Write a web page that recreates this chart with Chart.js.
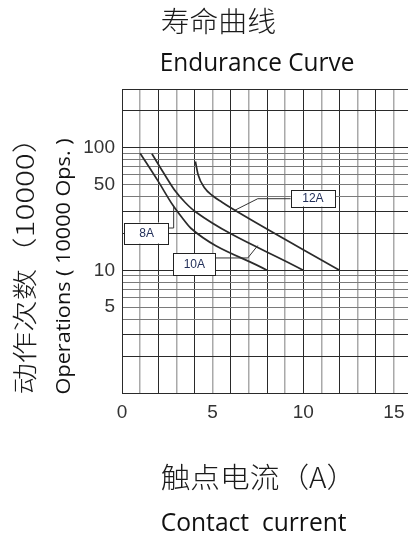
<!DOCTYPE html>
<html><head><meta charset="utf-8">
<script src="https://cdn.jsdelivr.net/npm/chart.js@4"></script>
<style>
html,body{margin:0;padding:0;background:#fff;overflow:hidden;}
#wrap{position:relative;width:420px;height:539px;}
</style></head><body>
<div id="wrap"><canvas id="c"></canvas></div>
<script>
// ---- data ----
const currents8 = [1.0, 2.0, 2.8, 3.3, 3.8, 8.0];
const ops8 = [90, 53, 34, 27, 22, 10];
const currents10 = [1.65, 2.3, 2.95, 3.5, 4.05, 10.0];
const ops10 = [89, 62, 44, 35.5, 30, 10];
const currents12 = [4.05, 4.2, 4.55, 5.0, 5.5, 6.0, 12.0];
const ops12 = [77, 60, 47, 40.5, 36, 32.3, 10];
const seriesNames = ['8A', '10A', '12A'];
const xTickLabels = [0, 5, 10, 15];
const yTickLabels = [100, 50, 10, 5];
const yGridValues = [1,2,3,4,5,6,7,8,9,10,20,30,40,50,60,70,80,90,100,200,300];
const yMajorGrid = [1,2,3,10,20,30,100,200,300];

// callout label boxes and leader lines, in data coordinates
const calloutBoxX = [[0.13, 2.58], [2.82, 5.16], [9.31, 11.76]];
const calloutBoxY = [[16.5, 24.5], [9.06, 13.8], [33.1, 45.3]];
const calloutLeaders = [
  [[2.58, 22.1], [2.85, 22.1], [2.85, 33]],
  [[5.16, 12.6], [6.94, 12.6], [7.49, 15.9]],
  [[9.31, 38.3], [7.49, 38.3], [6.22, 30.8]]
];

const toPts = (xs, ys) => xs.map((x, i) => ({x: x, y: ys[i]}));

function fitText(ctx, text, font, color, x0, x1, yc) {
  ctx.save();
  ctx.font = font; ctx.fillStyle = color;
  ctx.textBaseline = 'alphabetic'; ctx.textAlign = 'left';
  const m = ctx.measureText(text);
  const inkW = m.actualBoundingBoxLeft + m.actualBoundingBoxRight;
  const sx = (x1 - x0) / inkW;
  const base = yc + (m.actualBoundingBoxAscent - m.actualBoundingBoxDescent) / 2;
  ctx.translate(x0, base);
  ctx.scale(sx, 1);
  ctx.fillText(text, m.actualBoundingBoxLeft, 0);
  ctx.restore();
}
function fitTextVertical(ctx, text, font, color, xc, yStart, yEnd) {
  ctx.save();
  ctx.translate(xc, yStart);
  ctx.rotate(-Math.PI / 2);
  fitText(ctx, text, font, color, 0, yStart - yEnd, 0);
  ctx.restore();
}

const decorPlugin = {
  id: 'decor',
  afterDatasetsDraw(chart) {
    const ctx = chart.ctx, xs = chart.scales.x, ys = chart.scales.y;
    ctx.save();
    // leaders
    ctx.strokeStyle = '#333'; ctx.lineWidth = 1;
    calloutLeaders.forEach(path => {
      ctx.beginPath();
      path.forEach((p, i) => {
        const px = xs.getPixelForValue(p[0]), py = ys.getPixelForValue(p[1]);
        if (i === 0) ctx.moveTo(px, py); else ctx.lineTo(px, py);
      });
      ctx.stroke();
    });
    // boxes
    seriesNames.forEach((name, i) => {
      const x0 = xs.getPixelForValue(calloutBoxX[i][0]);
      const x1 = xs.getPixelForValue(calloutBoxX[i][1]);
      const y0 = ys.getPixelForValue(calloutBoxY[i][1]);
      const y1 = ys.getPixelForValue(calloutBoxY[i][0]);
      ctx.fillStyle = '#fff';
      ctx.fillRect(x0, y0, x1 - x0, y1 - y0);
      ctx.strokeStyle = '#222'; ctx.lineWidth = 1;
      ctx.strokeRect(Math.round(x0) + 0.5, Math.round(y0) + 0.5, Math.round(x1 - x0), Math.round(y1 - y0));
      ctx.fillStyle = '#23305a';
      ctx.font = '12px "Liberation Sans", Arial, sans-serif';
      ctx.textAlign = 'center'; ctx.textBaseline = 'middle';
      ctx.fillText(name, (x0 + x1) / 2, (y0 + y1) / 2 + 0.5);
    });
    ctx.restore();
  },
  afterDraw(chart) {
    const ctx = chart.ctx;
    const cjk = '"Noto Sans CJK SC", sans-serif';
    const lat = '"Open Sans", "Noto Sans", sans-serif';
    fitText(ctx, '寿命曲线', '300 28px ' + cjk, '#1a1a1a', 161.7, 275, 20.8);
    fitText(ctx, 'Endurance Curve', '25px ' + lat, '#111', 161.7, 353.3, 61);
    fitText(ctx, '触点电流（A）', '300 28px ' + cjk, '#1a1a1a', 161.7, 335, 476.7);
    fitText(ctx, 'Contact  current', '25px ' + lat, '#111', 161.7, 346.7, 521.5);
    fitTextVertical(ctx, '动作次数（10000）', '300 25px ' + cjk, '#1a1a1a', 24, 393.3, 143.3);
    fitTextVertical(ctx, 'Operations ( 10000 Ops. )', '20px ' + lat, '#111', 65.5, 393.3, 138.3);
  }
};

const lineStyle = {borderColor: '#2b2b2b', borderWidth: 1.7, pointRadius: 0, fill: false,
  cubicInterpolationMode: 'monotone'};

new Chart(document.getElementById('c'), {
  type: 'line',
  data: {
    datasets: [
      Object.assign({label: seriesNames[0], data: toPts(currents8, ops8)}, lineStyle),
      Object.assign({label: seriesNames[1], data: toPts(currents10, ops10)}, lineStyle),
      Object.assign({label: seriesNames[2], data: toPts(currents12, ops12)}, lineStyle)
    ]
  },
  options: {
    responsive: true, maintainAspectRatio: false, animation: false,
    layout: {padding: {top: 89, left: 0, right: 4, bottom: 0}},
    plugins: {legend: {display: false}, title: {display: false}, tooltip: {enabled: false}},
    scales: {
      x: {
        type: 'linear', min: 0, max: 16,
        afterFit(s) { s.height = 146; },
        afterBuildTicks(s) { const t = []; for (let v = 0; v <= 16; v++) t.push({value: v}); s.ticks = t; },
        ticks: {
          autoSkip: false, maxRotation: 0, padding: 8,
          color: '#333', font: {family: '"Liberation Sans", Arial, sans-serif', size: 19},
          callback: v => xTickLabels.includes(v) ? String(v) : ''
        },
        grid: {
          drawTicks: false,
          color: c => (c.tick && c.tick.value % 2 === 0) ? '#2a2a2a' : '#a9a9a9',
          lineWidth: c => (c.tick && c.tick.value % 2 === 0) ? 1 : 1.5
        },
        border: {display: true, color: '#2a2a2a', width: 1}
      },
      y: {
        type: 'logarithmic', min: 1, max: 300,
        afterFit(s) { s.width = 122; },
        afterBuildTicks(s) { s.ticks = yGridValues.map(v => ({value: v})); },
        ticks: {
          autoSkip: false, padding: 7,
          color: '#333', font: {family: '"Liberation Sans", Arial, sans-serif', size: 19},
          callback: v => yTickLabels.includes(v) ? String(v) : ''
        },
        grid: {
          drawTicks: false,
          color: c => (c.tick && yMajorGrid.includes(c.tick.value)) ? '#2a2a2a' : '#7a7a7a',
          lineWidth: 1
        },
        border: {display: true, color: '#2a2a2a', width: 1}
      }
    }
  },
  plugins: [decorPlugin]
});
</script>
</body></html>
